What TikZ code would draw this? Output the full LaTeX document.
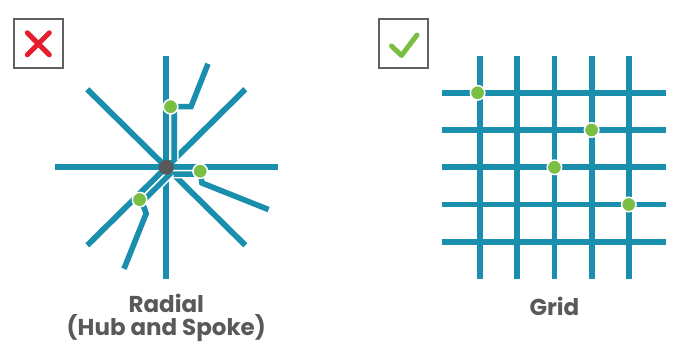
\documentclass[tikz,border=0pt]{standalone}
\usepackage{fontspec}
\setmainfont{Poppins}
\definecolor{route}{HTML}{1A8FAD}
\definecolor{stopgreen}{HTML}{7ABE43}
\definecolor{hubgrey}{HTML}{58595B}
\definecolor{framegrey}{HTML}{606060}
\definecolor{crossred}{HTML}{E31E2D}
\definecolor{labelgrey}{HTML}{58595B}

\begin{document}
\begin{tikzpicture}[x=1pt,y=-1pt,
  road/.style={draw=route, line width=5.8pt},
  spur/.style={draw=route, line width=5.6pt,
               preaction={draw=white, line width=8.6pt}},
  stop/.style={circle, fill=stopgreen, draw=white, line width=1.5pt,
               minimum size=14.5pt, inner sep=0pt},
  hubdot/.style={circle, fill=hubgrey, minimum size=15pt, inner sep=0pt},
  markbox/.style={draw=framegrey, line width=2pt, minimum size=49pt, inner sep=0pt},
  caption/.style={font=\fontsize{23}{18.4}\selectfont\bfseries, text=labelgrey,
                  anchor=base, inner sep=0pt}]

\useasboundingbox (0,0) rectangle (678,350);

% ---------- radial layout ----------
\coordinate (h) at (166.3,167.3);
% main spokes
\draw[road] (166.3,55.7) -- (166.3,278.7);
\draw[road] (54.7,167.3) -- (277.7,167.3);
\draw[road] (87.3,89.3) -- (245.3,245.3);
\draw[road] (245.3,89.3) -- (87.3,245.3);

% branch routes leaving the hub
\draw[spur] (174.2,160) -- (174.2,106.7) -- (191,106.7) -- (208,63.8);
\draw[spur] (172,174.2) -- (200.5,174.2) -- (202,183) -- (268.6,209.6);
\draw[spur] (171,173) -- (142,202) -- (146.2,213.5) -- (124,268.8);

% hub and stops
\node[hubdot] (hub) at (h) {};
\node[stop] (r1) at (170.6,106.7) {};
\node[stop] (r2) at (200.2,171.2) {};
\node[stop] (r3) at (139.6,199.6) {};

% ---------- grid layout ----------
\foreach \gx in {480,517.2,554.4,591.6,628.8}
  \draw[road] (\gx,55.7) -- (\gx,278.7);
\foreach \gy in {92.8,130,167.3,204.5,241.7}
  \draw[road] (442.3,\gy) -- (666,\gy);

\node[stop] (g1) at (477.6,92.8) {};
\node[stop] (g2) at (591.6,130) {};
\node[stop] (g3) at (554.4,167.3) {};
\node[stop] (g4) at (628.8,204.5) {};

% ---------- verdict marks ----------
\node[markbox] (bad) at (38.3,43.8) {};
\draw[crossred, line width=5pt, line cap=round]
  ([shift={(-11,-11)}]bad.center) -- ([shift={(11,11)}]bad.center)
  ([shift={(11,-11)}]bad.center) -- ([shift={(-11,11)}]bad.center);

\node[markbox] (good) at (403.3,43.8) {};
\draw[stopgreen, line width=5pt, line cap=round, line join=round]
  ([shift={(-11.8,2.2)}]good.center) -- ([shift={(-1.8,11.7)}]good.center)
  -- ([shift={(13.7,-8.8)}]good.center);

% ---------- captions ----------
\node[caption, align=center] (radial) at (166.3,335) {Radial\\(Hub and Spoke)};
\node[caption] (grid) at (554.4,315.5) {Grid};
\end{tikzpicture}
\end{document}
